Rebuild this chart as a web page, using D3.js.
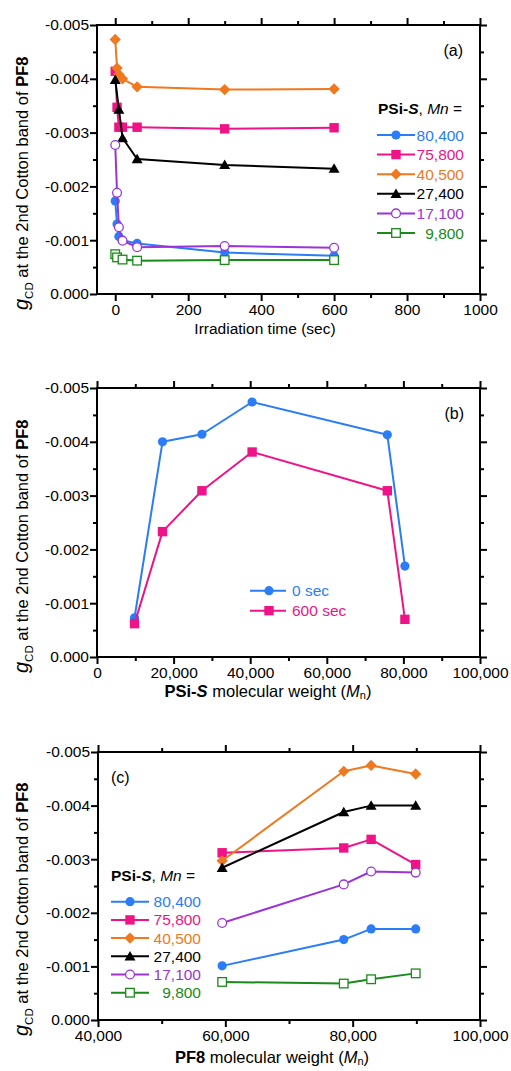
<!DOCTYPE html>
<html>
<head>
<meta charset="utf-8">
<script src="https://cdn.jsdelivr.net/npm/d3@7"></script>
<style>
  body { margin: 0; background: #fff; }
  svg text { font-family: "Liberation Sans", Arial, sans-serif; }
</style>
</head>
<body>
<div id="chart"></div>
<script>
// ---- data ----
const seriesNames = ['80,400', '75,800', '40,500', '27,400', '17,100', '9,800'];

// (a) g_CD vs irradiation time (null = no point)
const timeSec = [0, 5, 10, 20, 60, 300, 600];
const gA80400 = [-0.00173, -0.00130, -0.00107, -0.00100, -0.00094, -0.00077, -0.00071];
const gA75800 = [-0.00414, -0.00347, -0.00310, -0.00310, -0.00310, -0.00307, -0.00309];
const gA40500 = [-0.00473, -0.00420, -0.00408, -0.00400, -0.00385, -0.00380, -0.00381];
const gA27400 = [-0.00398, null, -0.00343, -0.00290, -0.00251, -0.00240, -0.00233];
const gA17100 = [-0.00277, -0.00188, -0.00124, -0.00099, -0.00087, -0.00089, -0.00086];
const gA9800  = [-0.00074, -0.00068, null, -0.00064, -0.00062, -0.00063, -0.00063];

// (b) g_CD vs PSi-S molecular weight
const psiMn = [9800, 17100, 27400, 40500, 75800, 80400];
const gB0sec = [-0.00073, -0.00400, -0.00414, -0.00474, -0.00413, -0.00169];
const gB600sec = [-0.00062, -0.00233, -0.00309, -0.00381, -0.00309, -0.00070];

// (c) g_CD vs PF8 molecular weight
const pf8Mn = [59500, 78600, 82900, 89900];
const gC80400 = [-0.00101, -0.00150, -0.00170, -0.00170];
const gC75800 = [-0.00312, -0.00321, -0.00337, -0.00290];
const gC40500 = [-0.00297, -0.00464, -0.00475, -0.00459];
const gC27400 = [-0.00284, -0.00388, -0.00400, -0.00400];
const gC17100 = [-0.00181, -0.00253, -0.00277, -0.00275];
const gC9800  = [-0.00071, -0.00068, -0.00076, -0.00087];

// ticks
const yMajor = [0, -0.001, -0.002, -0.003, -0.004, -0.005];
const yMinor = [-0.0005, -0.0015, -0.0025, -0.0035, -0.0045];
const xTicksA = [0, 200, 400, 600, 800, 1000];
const xMinorA = [100, 300, 500, 700, 900];
const xTicksB = [0, 20000, 40000, 60000, 80000, 100000];
const xMinorB = [10000, 30000, 50000, 70000, 90000];
const xTicksC = [40000, 60000, 80000, 100000];
const xMinorC = [50000, 70000, 90000];

// ---- styles ----
const styles = [
  { color: '#2a7df6', sym: 'circle' },
  { color: '#ee1487', sym: 'square' },
  { color: '#f0781e', sym: 'diamond' },
  { color: '#000000', sym: 'triangle' },
  { color: '#9b34d8', sym: 'ocircle' },
  { color: '#1a8a1a', sym: 'osquare' }
];
const FONT = 15.5;

const W = 511, H = 1071;
const svg = d3.select('#chart').append('svg')
  .attr('width', W).attr('height', H)
  .attr('viewBox', `0 0 ${W} ${H}`);
svg.append('rect').attr('width', W).attr('height', H).attr('fill', '#fff');

function marker(g, sym, color, cx, cy) {
  if (sym === 'circle') {
    g.append('circle').attr('cx', cx).attr('cy', cy).attr('r', 4.6).attr('fill', color);
  } else if (sym === 'ocircle') {
    g.append('circle').attr('cx', cx).attr('cy', cy).attr('r', 4.4)
      .attr('fill', '#fff').attr('stroke', color).attr('stroke-width', 1.3);
  } else if (sym === 'square') {
    g.append('rect').attr('x', cx - 4.7).attr('y', cy - 4.7).attr('width', 9.4).attr('height', 9.4).attr('fill', color);
  } else if (sym === 'osquare') {
    g.append('rect').attr('x', cx - 4.3).attr('y', cy - 4.3).attr('width', 8.6).attr('height', 8.6)
      .attr('fill', '#fff').attr('stroke', color).attr('stroke-width', 1.3);
  } else if (sym === 'diamond') {
    g.append('rect').attr('x', -4).attr('y', -4).attr('width', 8).attr('height', 8)
      .attr('fill', color).attr('transform', `translate(${cx},${cy}) rotate(45)`);
  } else if (sym === 'triangle') {
    g.append('path').attr('d', d3.symbol(d3.symbolTriangle, 52)())
      .attr('transform', `translate(${cx},${cy + 1})`).attr('fill', color);
  }
}

function series(g, x, y, xs, ys, style) {
  const pts = xs.map((v, i) => [v, ys[i]]).filter(p => p[1] !== null);
  const line = d3.line().x(d => x(d[0])).y(d => y(d[1]));
  g.append('path').datum(pts).attr('d', line)
    .attr('fill', 'none').attr('stroke', style.color).attr('stroke-width', 2)
    .attr('stroke-linejoin', 'round');
  pts.forEach(p => marker(g, style.sym, style.color, x(p[0]), y(p[1])));
}

function styleAxis(sel) {
  sel.select('.domain').remove();
  sel.attr('font-size', null).attr('font-family', null);
  sel.selectAll('line').attr('stroke', '#000').attr('stroke-width', 2);
  sel.selectAll('text').attr('font-size', FONT).attr('fill', '#000');
}

function panel(box, xDomain, xMajor, xMinor, xFmt) {
  const x = d3.scaleLinear().domain(xDomain).range([box.left, box.right]);
  const y = d3.scaleLinear().domain([0, -0.005]).range([box.bottom, box.top]);
  const g = svg.append('g');
  const none = () => '';

  // bottom / top
  g.append('g').attr('transform', `translate(0,${box.bottom})`)
    .call(d3.axisBottom(x).tickValues(xMajor).tickSize(7).tickPadding(3).tickFormat(xFmt)).call(styleAxis);
  g.append('g').attr('transform', `translate(0,${box.bottom})`)
    .call(d3.axisBottom(x).tickValues(xMinor).tickSize(4).tickFormat(none)).call(styleAxis);
  g.append('g').attr('transform', `translate(0,${box.top})`)
    .call(d3.axisTop(x).tickValues(xMajor).tickSize(7).tickFormat(none)).call(styleAxis);
  g.append('g').attr('transform', `translate(0,${box.top})`)
    .call(d3.axisTop(x).tickValues(xMinor).tickSize(4).tickFormat(none)).call(styleAxis);
  // left / right
  g.append('g').attr('transform', `translate(${box.left},0)`)
    .call(d3.axisLeft(y).tickValues(yMajor).tickSize(7).tickPadding(1).tickFormat(d => d.toFixed(3))).call(styleAxis);
  g.append('g').attr('transform', `translate(${box.left},0)`)
    .call(d3.axisLeft(y).tickValues(yMinor).tickSize(4).tickFormat(none)).call(styleAxis);
  g.append('g').attr('transform', `translate(${box.right},0)`)
    .call(d3.axisRight(y).tickValues(yMajor).tickSize(7).tickFormat(none)).call(styleAxis);
  g.append('g').attr('transform', `translate(${box.right},0)`)
    .call(d3.axisRight(y).tickValues(yMinor).tickSize(4).tickFormat(none)).call(styleAxis);

  g.append('rect').attr('x', box.left).attr('y', box.top)
    .attr('width', box.right - box.left).attr('height', box.bottom - box.top)
    .attr('fill', 'none').attr('stroke', '#000').attr('stroke-width', 2);

  // y label
  const yl = g.append('text')
    .attr('transform', `translate(28,${box.bottom + 16}) rotate(-90)`)
    .attr('font-size', 16.5).attr('fill', '#000');
  yl.append('tspan').attr('font-style', 'italic').attr('font-size', 20).text('g');
  yl.append('tspan').attr('font-size', 11.5).attr('dy', 4.5).text('CD');
  yl.append('tspan').attr('dy', -4.5).text(' at the 2nd Cotton band of ');
  yl.append('tspan').attr('font-weight', 'bold').text('PF8');

  return { g, x, y };
}

function legendHeader(g, lx, ly) {
  const t = g.append('text').attr('x', lx).attr('y', ly).attr('font-size', FONT).attr('fill', '#000');
  t.append('tspan').attr('font-weight', 'bold').text('PSi-');
  t.append('tspan').attr('font-weight', 'bold').attr('font-style', 'italic').text('S');
  t.append('tspan').text(', ');
  t.append('tspan').attr('font-style', 'italic').text('Mn');
  t.append('tspan').text(' =');
}

function legendRows(g, x0, x1, textRight, yStart, step) {
  seriesNames.forEach((name, i) => {
    const st = styles[i];
    const cy = yStart + i * step;
    g.append('line').attr('x1', x0).attr('x2', x1).attr('y1', cy).attr('y2', cy)
      .attr('stroke', st.color).attr('stroke-width', 2);
    marker(g, st.sym, st.color, (x0 + x1) / 2, cy);
    g.append('text').attr('x', textRight).attr('y', cy + 5.5).attr('text-anchor', 'end')
      .attr('font-size', FONT).attr('fill', st.color).text(name);
  });
}

const commaFmt = d3.format(',');

// ---- panel (a) ----
const A = panel({ top: 25, bottom: 294, left: 97, right: 480 }, [-50, 1000], xTicksA, xMinorA, d3.format('d'));
[gA80400, gA75800, gA40500, gA27400, gA17100, gA9800].forEach((ys, i) => series(A.g, A.x, A.y, timeSec, ys, styles[i]));
A.g.append('text').attr('x', 463).attr('y', 56).attr('text-anchor', 'end').attr('font-size', 16).text('(a)');
legendHeader(A.g, 378, 114);
legendRows(A.g, 377, 415, 464, 135, 19.6);
A.g.append('text').attr('x', 265).attr('y', 334).attr('text-anchor', 'middle')
  .attr('font-size', FONT).text('Irradiation time (sec)');

// ---- panel (b) ----
const B = panel({ top: 388, bottom: 657, left: 97, right: 480 }, [0, 100000], xTicksB, xMinorB, commaFmt);
series(B.g, B.x, B.y, psiMn, gB0sec, styles[0]);
series(B.g, B.x, B.y, psiMn, gB600sec, styles[1]);
B.g.append('text').attr('x', 464).attr('y', 419).attr('text-anchor', 'end').attr('font-size', 16).text('(b)');
[['0 sec', styles[0]], ['600 sec', styles[1]]].forEach((d, i) => {
  const cy = 590.7 + i * 20;
  B.g.append('line').attr('x1', 250).attr('x2', 286).attr('y1', cy).attr('y2', cy)
    .attr('stroke', d[1].color).attr('stroke-width', 2);
  marker(B.g, d[1].sym, d[1].color, 269, cy);
  B.g.append('text').attr('x', 292).attr('y', cy + 5.5).attr('font-size', FONT)
    .attr('fill', d[1].color).text(d[0]);
});
{
  const t = B.g.append('text').attr('x', 268).attr('y', 697).attr('text-anchor', 'middle')
    .attr('font-size', 16.5).attr('fill', '#000');
  t.append('tspan').attr('font-weight', 'bold').text('PSi-');
  t.append('tspan').attr('font-weight', 'bold').attr('font-style', 'italic').text('S');
  t.append('tspan').text(' molecular weight (');
  t.append('tspan').attr('font-style', 'italic').text('M');
  t.append('tspan').attr('font-size', 11).attr('dy', 2).text('n');
  t.append('tspan').attr('dy', -2).text(')');
}

// ---- panel (c) ----
const C = panel({ top: 752, bottom: 1020, left: 98, right: 480 }, [40000, 100000], xTicksC, xMinorC, commaFmt);
[gC80400, gC75800, gC40500, gC27400, gC17100, gC9800].forEach((ys, i) => series(C.g, C.x, C.y, pf8Mn, ys, styles[i]));
C.g.append('text').attr('x', 111).attr('y', 783).attr('font-size', 16).text('(c)');
legendHeader(C.g, 111, 881);
legendRows(C.g, 111, 149, 201, 901.7, 18.2);
{
  const t = C.g.append('text').attr('x', 272).attr('y', 1063).attr('text-anchor', 'middle')
    .attr('font-size', 16.5).attr('fill', '#000');
  t.append('tspan').attr('font-weight', 'bold').text('PF8');
  t.append('tspan').text(' molecular weight (');
  t.append('tspan').attr('font-style', 'italic').text('M');
  t.append('tspan').attr('font-size', 11).attr('dy', 2).text('n');
  t.append('tspan').attr('dy', -2).text(')');
}
</script>
</body>
</html>
